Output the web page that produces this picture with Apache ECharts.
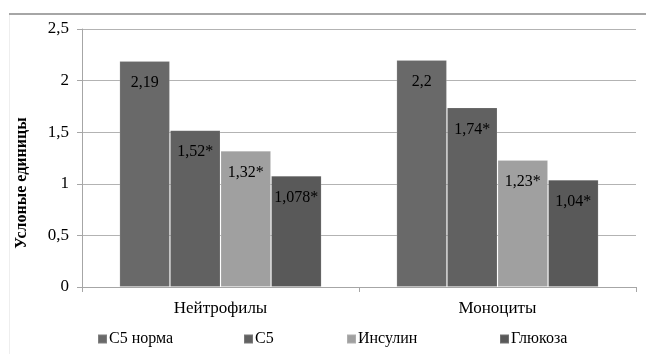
<!DOCTYPE html>
<html><head><meta charset="utf-8">
<script src="https://cdn.jsdelivr.net/npm/echarts@6/dist/echarts.min.js"></script>
<style>html,body{margin:0;padding:0;background:#fff}#c{width:646px;height:354px}</style>
</head><body><div id="c"></div>
<script>
const categories = ['Нейтрофилы', 'Моноциты'];
const seriesNames = ['С5 норма', 'С5', 'Инсулин', 'Глюкоза'];
const vNorm = [2.19, 2.2];
const vC5 = [1.52, 1.74];
const vIns = [1.32, 1.23];
const vGlu = [1.078, 1.04];
const labelsNorm = ['2,19', '2,2'];
const labelsC5 = ['1,52*', '1,74*'];
const labelsIns = ['1,32*', '1,23*'];
const labelsGlu = ['1,078*', '1,04*'];
const yTicks = ['0', '0,5', '1', '1,5', '2', '2,5'];

const colors = ['#696969', '#616161', '#a0a0a0', '#595959'];
const values = [vNorm, vC5, vIns, vGlu];
const labels = [labelsNorm, labelsC5, labelsIns, labelsGlu];
const legendLeft = [97, 243, 346, 499];
const font = 'Liberation Serif, DejaVu Serif, serif';

const chart = echarts.init(document.getElementById('c'), null, {renderer: 'canvas'});
chart.setOption({
  animation: false,
  color: colors,
  grid: {left: 82, right: 10, top: 29, bottom: 67, containLabel: false},
  legend: seriesNames.map((n, i) => ({
    data: [n], left: legendLeft[i], top: 331, padding: 0, icon: 'rect', itemWidth: 9, itemHeight: 9,
    textStyle: {fontFamily: font, fontSize: 16, color: '#000', padding: [0, 0, 0, -3]},
    selectedMode: false
  })),
  xAxis: {
    type: 'category', data: categories,
    axisLine: {lineStyle: {color: '#a6a6a6', width: 1}},
    axisTick: {show: true, length: 5, lineStyle: {color: '#a6a6a6'}},
    axisLabel: {fontFamily: font, fontSize: 17, color: '#000', margin: 13}
  },
  yAxis: {
    type: 'value', min: 0, max: 2.5, interval: 0.5,
    axisLine: {show: true, lineStyle: {color: '#a6a6a6'}},
    axisTick: {show: true, length: 5, lineStyle: {color: '#a6a6a6'}},
    splitLine: {lineStyle: {color: '#b3b3b3'}},
    axisLabel: {fontFamily: font, fontSize: 17, color: '#000', margin: 13,
      formatter: v => yTicks[Math.round(v / 0.5)]}
  },
  series: seriesNames.map((n, i) => ({
    name: n, type: 'bar', data: values[i],
    barGap: '0%', barCategoryGap: '27%',
    itemStyle: {color: colors[i], borderColor: 'rgba(255,255,255,0.15)', borderWidth: 1},
    label: {show: true, position: 'insideTop', distance: 14,
      fontFamily: font, fontSize: 16, color: '#000',
      formatter: p => labels[i][p.dataIndex]}
  })),
  graphic: [
    {type: 'line', shape: {x1: 9, y1: 14, x2: 646, y2: 14}, style: {stroke: '#a6a6a6', lineWidth: 2}},
    {type: 'line', shape: {x1: 9.5, y1: 15, x2: 9.5, y2: 354}, style: {stroke: '#eeeeee', lineWidth: 1}},
    {type: 'text', x: 22, y: 183, rotation: Math.PI / 2,
      style: {text: 'Услоные единицы', font: 'bold 16px ' + font, fill: '#000',
        textAlign: 'center', textVerticalAlign: 'middle'}}
  ]
});
</script></body></html>
